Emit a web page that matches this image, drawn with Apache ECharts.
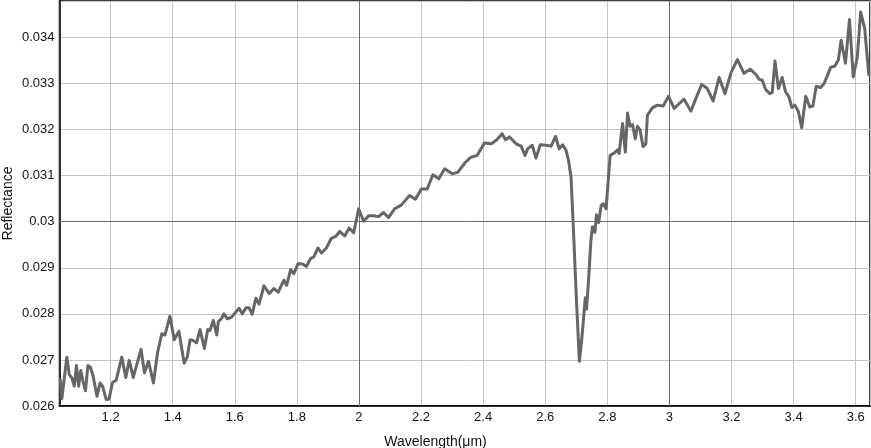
<!DOCTYPE html>
<html>
<head>
<meta charset="utf-8">
<script src="https://cdn.jsdelivr.net/npm/echarts@6/dist/echarts.min.js"></script>
<style>
html,body{margin:0;padding:0;background:#fff;}
#chart{width:871px;height:448px;}
</style>
</head>
<body>
<div id="chart"></div>
<script>
const wavelengths = [
1.038,1.043,1.046,1.059,1.067,1.075,1.083,1.090,1.097,1.104,1.111,1.119,1.127,1.135,1.144,1.156,1.166,1.174,1.186,1.195,
1.206,1.218,1.236,1.249,1.260,1.273,1.298,1.309,1.322,1.338,1.351,1.365,1.375,1.391,1.405,1.420,1.437,1.447,1.456,1.466,
1.477,1.488,1.502,1.513,1.520,1.531,1.542,1.547,1.558,1.565,1.576,1.590,1.614,1.624,1.636,1.646,1.656,1.668,1.678,1.694,
1.711,1.726,1.740,1.758,1.767,1.780,1.790,1.804,1.815,1.831,1.844,1.855,1.868,1.879,1.895,1.911,1.925,1.938,1.954,1.968,
1.983,1.999,2.015,2.031,2.047,2.063,2.079,2.095,2.115,2.136,2.163,2.182,2.201,2.220,2.238,2.257,2.276,2.300,2.318,2.343,
2.361,2.381,2.404,2.426,2.444,2.461,2.472,2.485,2.506,2.522,2.535,2.543,2.558,2.570,2.584,2.603,2.619,2.633,2.645,2.656,
2.667,2.675,2.683,2.690,2.701,2.710,2.718,2.729,2.733,2.740,2.747,2.752,2.760,2.765,2.772,2.780,2.787,2.796,2.802,2.809,
2.822,2.833,2.838,2.849,2.858,2.865,2.873,2.881,2.890,2.897,2.905,2.915,2.924,2.929,2.945,2.961,2.980,2.997,3.015,3.031,
3.047,3.069,3.085,3.104,3.122,3.141,3.160,3.179,3.198,3.219,3.240,3.260,3.278,3.289,3.299,3.310,3.323,3.331,3.340,3.351,
3.363,3.374,3.385,3.394,3.404,3.415,3.426,3.439,3.452,3.462,3.473,3.487,3.498,3.508,3.519,3.533,3.544,3.553,3.567,3.580,
3.592,3.605,3.616,3.629,3.642
];
const reflectance = [
0.02657,0.02616,0.02617,0.02706,0.02668,0.02661,0.02643,0.02688,0.02643,0.02677,0.02654,0.02633,0.02688,0.02684,0.02664,0.02621,0.02650,0.02643,0.02614,0.02615,
0.02651,0.02656,0.02706,0.02662,0.02699,0.02662,0.02723,0.02672,0.02697,0.02650,0.02715,0.02757,0.02754,0.02795,0.02744,0.02762,0.02693,0.02706,0.02744,0.02742,
0.02737,0.02766,0.02725,0.02766,0.02764,0.02786,0.02754,0.02783,0.02791,0.02800,0.02789,0.02793,0.02812,0.02800,0.02813,0.02813,0.02799,0.02834,0.02821,0.02861,
0.02844,0.02855,0.02847,0.02873,0.02862,0.02896,0.02887,0.02909,0.02909,0.02903,0.02920,0.02924,0.02943,0.02932,0.02943,0.02964,0.02968,0.02979,0.02969,0.02986,
0.02976,0.03028,0.03001,0.03013,0.03013,0.03011,0.03020,0.03009,0.03028,0.03036,0.03057,0.03049,0.03071,0.03071,0.03102,0.03093,0.03115,0.03104,0.03107,0.03129,
0.03140,0.03144,0.03171,0.03169,0.03178,0.03191,0.03178,0.03184,0.03169,0.03164,0.03144,0.03158,0.03166,0.03138,0.03167,0.03166,0.03164,0.03185,0.03158,0.03167,
0.03155,0.03133,0.03097,0.02995,0.02821,0.02697,0.02748,0.02835,0.02810,0.02879,0.02959,0.02989,0.02977,0.03015,0.02998,0.03035,0.03039,0.03028,0.03082,0.03144,
0.03149,0.03156,0.03148,0.03213,0.03151,0.03236,0.03207,0.03211,0.03180,0.03207,0.03200,0.03163,0.03169,0.03231,0.03247,0.03253,0.03251,0.03272,0.03246,0.03256,
0.03266,0.03240,0.03267,0.03298,0.03289,0.03262,0.03313,0.03278,0.03323,0.03352,0.03322,0.03331,0.03320,0.03309,0.03307,0.03287,0.03278,0.03280,0.03349,0.03289,
0.03313,0.03282,0.03271,0.03248,0.03253,0.03240,0.03204,0.03272,0.03249,0.03251,0.03294,0.03291,0.03300,0.03316,0.03335,0.03338,0.03351,0.03394,0.03344,0.03439,
0.03314,0.03357,0.03455,0.03419,0.03319
];
const yTickLabels = ['0.026','0.027','0.028','0.029','0.03','0.031','0.032','0.033','0.034'];
const xMajor = [2, 3];
const yMajor = [0.03];

const seriesData = wavelengths.map((w, i) => [w, reflectance[i]]);
const font = 'Helvetica, "Liberation Sans", Arial, sans-serif';

const chart = echarts.init(document.getElementById('chart'), null, {renderer: 'canvas'});
chart.setOption({
  animation: false,
  backgroundColor: '#fff',
  grid: {left: 59.5, right: 1, top: 1, bottom: 42, show: true, borderColor: '#000', borderWidth: 1.5,
    containLabel: false, outerBoundsMode: 'none'},
  title: {
    text: 'Wavelength(μm)', left: 'center', top: 430,
    textStyle: {fontFamily: font, fontSize: 14, fontWeight: 'normal', color: '#111'}
  },
  xAxis: {
    type: 'value', min: 1.0354, max: 3.646, splitNumber: 13,
    axisLine: {show: true, lineStyle: {color: '#000', width: 1.5}},
    axisTick: {show: false},
    axisLabel: {showMinLabel: false, showMaxLabel: false, fontFamily: font, fontSize: 13, color: '#111', margin: 5,
      formatter: v => String(+v.toFixed(1))},
    splitLine: {show: true, lineStyle: {color: '#c4c4c4', width: 1}}
  },
  yAxis: {
    type: 'value', min: 0.026, max: 0.03479, interval: 0.001,
    name: 'Reflectance', nameLocation: 'middle', nameGap: 44, nameMoveOverlap: false,
    nameTextStyle: {fontFamily: font, fontSize: 14, color: '#111'},
    axisLine: {show: true, lineStyle: {color: '#000', width: 1.5}},
    axisTick: {show: false},
    axisLabel: {showMaxLabel: false, fontFamily: font, fontSize: 13, color: '#111', margin: 5,
      formatter: v => yTickLabels[Math.round((v - 0.026) / 0.001)] ?? ''},
    splitLine: {show: true, lineStyle: {color: '#c4c4c4', width: 1}}
  },
  series: [{
    type: 'line',
    data: seriesData,
    showSymbol: false,
    symbol: 'none',
    lineStyle: {color: '#666666', width: 3, join: 'round', cap: 'round'},
    z: 3,
    markLine: {
      silent: true, symbol: 'none', label: {show: false},
      lineStyle: {color: '#6e6e6e', width: 1, type: 'solid'},
      z: 1,
      data: xMajor.map(x => ({xAxis: x})).concat(yMajor.map(y => ({yAxis: y})))
    }
  }]
});
</script>
</body>
</html>
